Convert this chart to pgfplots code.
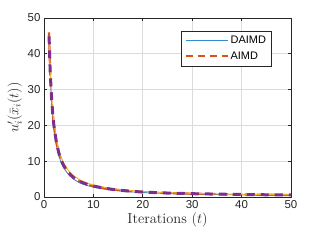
\documentclass[border=0pt]{standalone}
\usepackage{pgfplots}
\pgfplotsset{compat=1.18}
\usepackage{fontspec}
\newfontfamily\arial{Liberation Sans}
\definecolor{mblue}{rgb}{0.2,0.55,0.82}
\definecolor{morange}{rgb}{0.850,0.325,0.098}
\definecolor{myellow}{rgb}{0.929,0.694,0.125}
\definecolor{mpurple}{rgb}{0.494,0.184,0.556}
\definecolor{axgray}{rgb}{0.15,0.15,0.15}
\begin{document}
\begin{tikzpicture}
\begin{axis}[
 scale only axis, width=247bp, height=179bp,
 xmin=0,xmax=50,ymin=0,ymax=50,
 xtick={0,10,...,50}, ytick={0,10,...,50},
 grid=major, grid style={black!14, line width=0.6bp},
 axis line style={axgray, line width=0.6bp},
 tick style={axgray, line width=0.6bp},
 tick align=inside, major tick length=3bp,
 ticklabel style={font=\arial\fontsize{11.5}{13}\selectfont, text=axgray},
 /pgf/number format/assume math mode=true,
 xlabel={Iterations $(t)$}, ylabel={$u_i'(\bar{x}_i(t))$},
 label style={font=\fontsize{14.5}{16}\selectfont, text=axgray},
 xlabel style={yshift=3bp},
 ylabel style={yshift=-1bp},
 legend style={at={(0.92,0.93)}, anchor=north east, draw=axgray, line width=0.6bp, fill=white,
   font=\arial\fontsize{11}{13}\selectfont, cells={anchor=west}, inner xsep=3bp, inner ysep=3bp, row sep=3bp},
 legend image code/.code={\draw[#1] (0bp,0bp) -- (42bp,0bp);},
]
\addplot[draw=mblue, line width=0.9bp] coordinates {
(1,45) (1.25,34) (1.5,27) (1.75,22.3) (2,19) (2.5,14.4) (3,11.5) (3.5,9.5) (4,8.1) (5,6.2) (6,5.0) (7,4.1) (8,3.55) (9,3.1) (10,2.75) (12,2.25) (14,1.9) (16,1.62) (18,1.4) (20,1.24) (25,0.98) (30,0.8) (35,0.68) (40,0.58) (45,0.5) (50,0.45)};
\addlegendentry{DAIMD}
\addplot[draw=morange, line width=2.2bp, dash pattern=on 7bp off 5bp] coordinates {
(1,46) (1.25,35.2) (1.5,28.3) (1.75,23.5) (2,20.0) (2.5,15.3) (3,12.3) (3.5,10.2) (4,8.7) (5,6.7) (6,5.4) (7,4.5) (8,3.9) (9,3.4) (10,3.05) (12,2.5) (14,2.1) (16,1.8) (18,1.55) (20,1.38) (25,1.1) (30,0.92) (35,0.8) (40,0.7) (45,0.62) (50,0.56)};
\addlegendentry{AIMD}
\addplot[draw=myellow, line width=1bp, forget plot] coordinates {
(1,44) (1.25,35.5) (1.5,29) (1.75,24.3) (2,21) (2.5,16.2) (3,13.1) (3.5,11) (4,9.4) (5,7.3) (6,5.9) (7,5.0) (8,4.3) (9,3.75) (10,3.35) (12,2.75) (14,2.3) (16,2.0) (18,1.75) (20,1.55) (25,1.22) (30,1.02) (35,0.88) (40,0.77) (45,0.68) (50,0.62)};
\addplot[draw=mpurple, line width=3bp, dash pattern=on 8bp off 6bp, dash phase=10bp, forget plot] coordinates {
(1,46) (1.25,35.2) (1.5,28.3) (1.75,23.5) (2,20.0) (2.5,15.3) (3,12.3) (3.5,10.2) (4,8.7) (5,6.7) (6,5.4) (7,4.5) (8,3.9) (9,3.4) (10,3.05) (12,2.5) (14,2.1) (16,1.8) (18,1.55) (20,1.38) (25,1.1) (30,0.92) (35,0.8) (40,0.7) (45,0.62) (50,0.56)};
\end{axis}
\path ([shift={(-44bp,-44bp)}]current axis.south west) rectangle ([shift={(29bp,18bp)}]current axis.north east);
\end{tikzpicture}
\end{document}
